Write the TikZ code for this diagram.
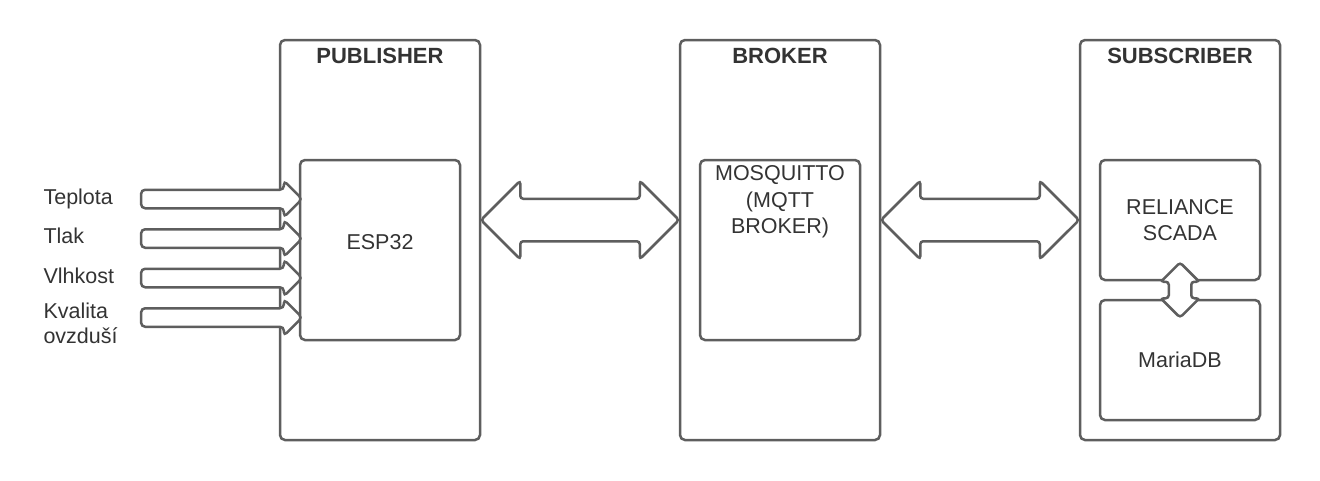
\documentclass[tikz,border=0pt]{standalone}
\usepackage{fontspec}
\setmainfont{Liberation Sans}
\usetikzlibrary{shapes.arrows,calc}
\definecolor{linegray}{HTML}{5E5E5E}
\definecolor{textgray}{HTML}{333333}
\begin{document}
\begin{tikzpicture}[x=1pt,y=-1pt,
    every node/.style={text=textgray,font=\fontsize{21.5}{26.5}\selectfont},
    outer/.style={draw=linegray,line width=2.5pt,rounded corners=5pt,
      minimum width=200pt,minimum height=400pt},
    inner/.style={draw=linegray,line width=2.5pt,rounded corners=5pt,
      minimum width=160pt,align=center},
    title/.style={anchor=base,font=\fontsize{22}{24}\selectfont\bfseries},
    bigarrow/.style={double arrow,draw=linegray,fill=white,line width=2.5pt,
      rounded corners=3pt,inner xsep=0pt,inner ysep=20pt,minimum height=198pt,
      double arrow head extend=18pt},
    dbarrow/.style={double arrow,draw=linegray,fill=white,line width=2.5pt,
      rounded corners=3pt,inner sep=10pt,shape border rotate=90,
      minimum height=55pt,double arrow head extend=8pt},
    inarrow/.style={single arrow,draw=linegray,fill=white,line width=2.5pt,
      rounded corners=4pt,inner xsep=0pt,inner ysep=8pt,minimum height=161pt,
      single arrow head extend=9pt},
    sensor/.style={anchor=base west,align=left}]
  \useasboundingbox (0,0) rectangle (1320,480);
  % the three parts
  \node[outer] (pub) at (380,240) {};
  \node[outer] (brk) at (780,240) {};
  \node[outer] (sub) at (1180,240) {};
  \node[title] (pubtitle) at (380,63) {PUBLISHER};
  \node[title] (brktitle) at (780,63) {BROKER};
  \node[title] (subtitle) at (1180,63) {SUBSCRIBER};
  % what is inside them
  \node[inner,minimum height=180pt,text depth=16pt] (esp) at (380,250) {ESP32};
  \node[inner,minimum height=180pt] (mosq) at (780,250) {};
  \node[anchor=north,align=center,inner sep=0pt] (mosqtext) at ($(mosq.north)+(0,7)$)
    {MOSQUITTO\\(MQTT\\BROKER)};
  \node[inner,minimum height=120pt] (rel) at (1180,220) {RELIANCE\\SCADA};
  \node[inner,minimum height=120pt] (maria) at (1180,360) {MariaDB};
  % sensors
  \node[sensor] (teplota) at (40,204) {Teplota};
  \node[sensor] (tlak) at (40,243) {Tlak};
  \node[sensor] (vlhkost) at (40,283) {Vlhkost};
  \node[sensor,font=\fontsize{21.5}{25}\selectfont] (kvalita) at (40,343) {Kvalita\\ovzduší};
  \node[inarrow] (in1) at (217,199) {};
  \node[inarrow] (in2) at (217,238.5) {};
  \node[inarrow] (in3) at (217,278) {};
  \node[inarrow] (in4) at (217,317.5) {};
  % links
  \node[bigarrow] (pubbrk) at ($(pub.east)!0.5!(brk.west)+(0,-20)$) {};
  \node[bigarrow] (brksub) at ($(brk.east)!0.5!(sub.west)+(0,-20)$) {};
  \node[dbarrow] (relmaria) at ($(rel.south)!0.5!(maria.north)$) {};
\end{tikzpicture}
\end{document}
